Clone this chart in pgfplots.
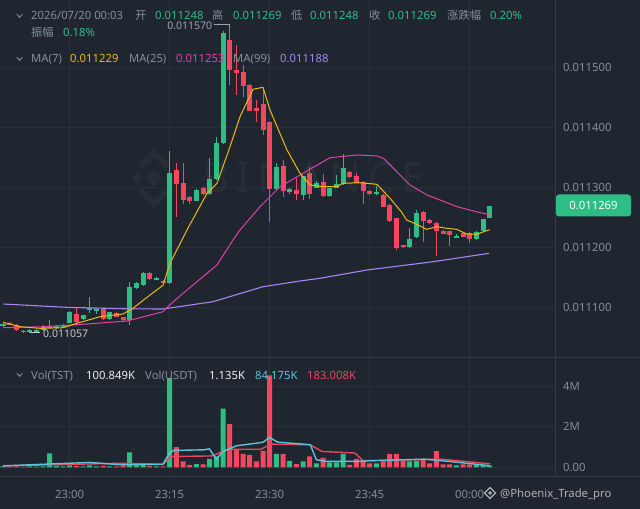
\documentclass[border=0pt]{standalone}
\usepackage{pgfplots}
\pgfplotsset{compat=1.18}
\usepackage{pgfplotstable}
\usepackage{fontspec}
\setmainfont{Noto Sans}
\newfontfamily\cjk{Noto Sans CJK SC}
\definecolor{bg}{HTML}{1F2630}
\definecolor{cgrid}{HTML}{29303A}
\definecolor{csep}{HTML}{343B46}
\definecolor{wm}{HTML}{272E38}
\definecolor{cgrey}{HTML}{848E9C}
\definecolor{cgreen}{HTML}{2EBD85}
\definecolor{cred}{HTML}{F6465D}
\definecolor{cyellow}{HTML}{F0B90B}
\definecolor{cpink}{HTML}{E040A8}
\definecolor{cpurple}{HTML}{A785F2}
\definecolor{cwhite}{HTML}{EAECEF}
\definecolor{ccyan}{HTML}{5EC3D8}
\definecolor{cvred}{HTML}{E8475F}
\newcommand\hf{\fontsize{11.3bp}{13bp}\selectfont}

\pgfplotstableread{
i o h l c
0 11069 11074 11066 11072
3 11059 11061 11057 11060
4 11058 11063 11057 11062
5 11059 11063 11057 11062
6 11062 11070 11060 11069
7 11066 11078 11065 11069
8 11066 11070 11064 11069
9 11066 11071 11065 11070
10 11074 11094 11073 11092
12 11080 11087 11079 11086
13 11095 11116 11090 11098
14 11094 11098 11089 11097
16 11080 11092 11079 11091
19 11078 11142 11070 11134
20 11131 11141 11130 11140
21 11136 11158 11135 11157
23 11146 11150 11145 11149
25 11140 11360 11139 11323
29 11277 11296 11276 11295
31 11288 11349 11287 11314
32 11313 11384 11312 11374
33 11373 11560 11372 11557
41 11296 11340 11295 11334
43 11292 11298 11288 11297
45 11287 11319 11278 11318
47 11299 11310 11298 11306
49 11285 11299 11284 11298
50 11299 11320 11298 11305
51 11305 11355 11304 11331
56 11288 11302 11287 11291
61 11200 11231 11199 11214
62 11216 11262 11215 11256
68 11216 11221 11215 11219
71 11213 11226 11212 11225
72 11226 11247 11225 11246
73 11248 11269 11248 11269
}\greenc

\pgfplotstableread{
i o h l c
1 11074 11075 11070 11071
2 11070 11071 11060 11061
11 11088 11099 11074 11075
15 11097 11099 11079 11080
17 11090 11091 11083 11084
18 11083 11084 11077 11078
22 11157 11158 11145 11146
24 11144 11145 11140 11141
26 11328 11340 11250 11305
27 11306 11340 11272 11278
28 11284 11285 11271 11276
30 11299 11300 11287 11288
34 11545 11570 11470 11495
35 11495 11537 11453 11490
36 11492 11503 11450 11469
37 11470 11471 11426 11427
38 11432 11445 11409 11426
39 11438 11464 11387 11395
40 11409 11410 11242 11296
42 11335 11345 11284 11294
44 11295 11315 11278 11288
46 11323 11334 11280 11289
48 11308 11321 11284 11285
52 11325 11326 11315 11316
53 11318 11324 11306 11307
54 11309 11310 11272 11293
55 11294 11295 11287 11288
57 11287 11288 11266 11267
58 11270 11271 11242 11243
59 11248 11249 11195 11198
60 11203 11204 11199 11200
63 11259 11260 11209 11244
64 11245 11246 11239 11240
65 11240 11241 11185 11226
66 11227 11228 11221 11222
67 11226 11227 11202 11220
69 11223 11224 11216 11217
70 11224 11225 11207 11213
}\redc

\pgfplotstableread{
i p
0.05 11074.5
2.55 11067.2
5.55 11064.5
9.0 11065.5
11.1 11072.9
14.55 11083.9
18.0 11088.4
19.5 11097.9
21.6 11116.2
24.0 11136.2
25.05 11172.9
27.6 11228.4
30.6 11289.5
32.1 11306.2
34.05 11367.2
35.55 11417.2
37.5 11462.9
39.0 11466.2
40.05 11428.4
42.6 11361.7
44.55 11322.9
46.05 11303.4
48.0 11300.5
50.1 11300.5
51.0 11306.2
53.55 11307.2
56.1 11304.5
58.05 11281.2
59.8 11258.0
60.55 11245.0
62.05 11238.0
63.55 11229.5
65.05 11233.9
66.55 11231.2
68.05 11229.5
69.55 11221.7
71.05 11221.2
73.0 11229.0
}\maseven

\pgfplotstableread{
i p
0.05 11065.5
6.0 11067.2
12.0 11071.2
18.6 11076.7
24.0 11092.2
25.55 11108.9
27.6 11128.4
32.1 11170.0
34.5 11211.7
35.55 11228.4
38.55 11267.2
41.55 11300.5
44.55 11320.0
49.05 11348.9
53.1 11353.4
56.1 11351.7
57.05 11347.9
61.05 11303.4
63.6 11286.7
65.55 11278.4
68.1 11267.2
71.55 11257.2
73.05 11254.2
}\matwentyfive

\pgfplotstableread{
i p
0.05 11105.0
9.6 11099.5
18.6 11097.0
24.0 11096.7
31.5 11108.9
39.0 11133.9
44.55 11143.4
47.55 11147.9
54.6 11161.7
64.5 11175.5
72.9 11189.5
}\manine

\pgfplotstableread{
i v
0 0.05
3 0.03
4 0.05
5 0.04
6 0.06
7 0.70
8 0.08
9 0.05
10 0.10
12 0.06
13 0.10
14 0.05
16 0.06
19 0.74
20 0.10
21 0.12
23 0.06
25 4.40
29 0.17
31 0.43
32 0.55
33 2.90
41 0.67
43 0.33
45 0.30
47 0.20
49 0.25
50 0.25
51 0.67
56 0.20
61 0.30
62 0.33
68 0.10
71 0.15
72 0.12
73 0.10
}\greenv

\pgfplotstableread{
i v
1 0.04
2 0.06
11 0.08
15 0.08
17 0.05
18 0.07
22 0.08
24 0.05
26 1.00
27 0.30
28 0.13
30 0.15
34 2.13
35 0.90
36 0.67
37 0.62
38 0.30
39 0.82
40 4.53
42 0.66
44 0.17
46 0.55
48 0.47
52 0.13
53 0.43
54 0.38
55 0.20
57 0.30
58 0.67
59 0.66
60 0.33
63 0.43
64 0.20
65 0.80
66 0.15
67 0.15
69 0.15
70 0.15
}\redv

\pgfplotstableread{
i v
0 0.08
9.96 0.21
13.0 0.25
17.9 0.13
24.0 0.16
24.95 0.71
25.6 0.84
30.15 0.87
30.95 0.92
32.0 0.41
33.0 0.79
35.05 1.07
38.1 1.20
39.05 1.25
39.95 1.48
41.2 1.25
46.1 1.12
47.0 0.38
48.5 0.30
53.4 0.30
54.65 0.33
63.2 0.41
66.9 0.30
73.0 0.09
}\vmafive

\pgfplotstableread{
i v
0 0.08
17.85 0.21
24.0 0.16
25.2 0.54
31.35 0.57
33.85 0.90
38.7 0.90
40.2 1.15
46.05 1.12
47.85 0.79
52.8 0.71
54.0 0.33
65.7 0.41
73.05 0.18
}\vmaten

\pgfplotsset{
  candlewick/.style={forget plot, draw=none, mark=none,
    error bars/.cd, y dir=both, y explicit, error mark=none,
    error bar style={line width=1bp, draw=#1, solid}},
  candlebody/.style={forget plot, draw=none, mark=none,
    error bars/.cd, y dir=both, y explicit, error mark=none,
    error bar style={line width=5bp, draw=#1, solid}},
}

\begin{document}
\begin{tikzpicture}[x=1bp,y=-1bp]
\fill[bg] (0,0) rectangle (640,509);
% watermark
\fill[wm] (154,170)--(162,178.5)--(154,187)--(146,178.5)--cycle;
\fill[wm] (137,173)--(142.5,178.5)--(137,184)--(131.5,178.5)--cycle;
\fill[wm] (171,173)--(176.5,178.5)--(171,184)--(165.5,178.5)--cycle;
\draw[wm, line width=6bp] (140,167)--(154,153)--(168,167);
\draw[wm, line width=6bp] (140,190)--(154,204)--(168,190);
\node[text=wm, inner sep=0pt, anchor=center, font=\fontsize{42bp}{44bp}\selectfont\bfseries\addfontfeature{LetterSpace=16}] at (314,178) {BINANCE};

\begin{axis}[
  at={(0bp,0bp)}, anchor=north west,
  width=555bp, height=357bp, scale only axis,
  xmin=-0.45, xmax=82.8, ymin=11016.7, ymax=11611.7,
  axis line style={draw=none}, major tick length=0pt,
  xtick={10,25,40,55,70}, xticklabels={},
  ytick={11100,11200,11300,11400,11500},
  yticklabels={0.011100,0.011200,0.011300,0.011400,0.011500},
  yticklabel pos=right,
  yticklabel style={anchor=west, inner sep=0pt, xshift=8bp, text=cgrey, font=\hf},
  xmajorgrids, ymajorgrids, grid style={draw=cgrid, line width=0.8bp},
]
\addplot[candlewick=cgreen] table[x=i, y expr={(\thisrow{h}+\thisrow{l})/2}, y error expr={(\thisrow{h}-\thisrow{l})/2}] \greenc;
\addplot[candlebody=cgreen] table[x=i, y expr={(\thisrow{o}+\thisrow{c})/2}, y error expr={max(abs(\thisrow{c}-\thisrow{o})/2,0.5)}] \greenc;
\addplot[candlewick=cred] table[x=i, y expr={(\thisrow{h}+\thisrow{l})/2}, y error expr={(\thisrow{h}-\thisrow{l})/2}] \redc;
\addplot[candlebody=cred] table[x=i, y expr={(\thisrow{o}+\thisrow{c})/2}, y error expr={max(abs(\thisrow{c}-\thisrow{o})/2,0.5)}] \redc;
\addplot[cpurple, line width=1.1bp, mark=none] table[x=i,y=p] \manine;
\addplot[cpink, line width=1bp, mark=none] table[x=i,y=p] \matwentyfive;
\addplot[cyellow, line width=1bp, mark=none] table[x=i,y=p] \maseven;
% high / low markers
\draw[cgrey!80!white, line width=0.8bp] (axis cs:31.6,11571) -- (axis cs:34,11571) -- (axis cs:34,11566);
\node[anchor=east, inner sep=0pt, text=cgrey!80!white, font=\fontsize{10.5bp}{12bp}\selectfont] at (axis cs:31.4,11569) {0.011570};
\draw[cwhite!85!black, line width=0.8bp] (axis cs:4,11057) -- (axis cs:5.6,11057);
\node[anchor=west, inner sep=0pt, text=cwhite!85!black, font=\fontsize{10.5bp}{12bp}\selectfont] at (axis cs:6.0,11056) {0.011057};
\end{axis}

\begin{axis}[
  at={(0bp,-357bp)}, anchor=north west,
  width=555bp, height=118bp, scale only axis,
  xmin=-0.45, xmax=82.8, ymin=-0.37, ymax=5.44,
  axis line style={draw=none}, major tick length=0pt,
  xtick={10,25,40,55,70}, xticklabels={23:00,23:15,23:30,23:45,00:00},
  xticklabel style={anchor=center, inner sep=0pt, yshift=-19bp, text=cgrey, font=\hf},
  ytick={0,2,4}, yticklabels={0.00,2M,4M},
  yticklabel pos=right,
  yticklabel style={anchor=west, inner sep=0pt, xshift=8bp, text=cgrey, font=\hf},
  xmajorgrids, ymajorgrids, grid style={draw=cgrid, line width=0.8bp},
]
\addplot[ybar, bar width=5bp, bar shift=0pt, fill=cgreen, draw=none] table[x=i,y=v] \greenv;
\addplot[ybar, bar width=5bp, bar shift=0pt, fill=cred, draw=none] table[x=i,y=v] \redv;
\addplot[cvred, line width=1.4bp, mark=none] table[x=i,y=v] \vmaten;
\addplot[ccyan, line width=1.4bp, mark=none] table[x=i,y=v] \vmafive;
\end{axis}

% separators
\draw[csep, line width=1bp] (555.5,0) -- (555.5,476);
\draw[csep, line width=1bp] (0,357.5) -- (640,357.5);
\draw[csep, line width=1bp] (0,476.5) -- (640,476.5);

% header text
\newcommand\tx[4]{\node[anchor=base west, inner sep=0pt, text=#3, font=\hf] at (#1,#2) {#4};}
\draw[cgrey, line width=0.9bp] (16.8,14.3) -- (19.6,17.3) -- (22.4,14.3);
\tx{31}{20}{cgrey}{2026/07/20 00:03}
\tx{135}{20}{cgrey}{\cjk 开}
\tx{155}{20}{cgreen}{0.011248}
\tx{212}{20}{cgrey}{\cjk 高}
\tx{233}{20}{cgreen}{0.011269}
\tx{291}{20}{cgrey}{\cjk 低}
\tx{310}{20}{cgreen}{0.011248}
\tx{369}{20}{cgrey}{\cjk 收}
\tx{388}{20}{cgreen}{0.011269}
\tx{447}{20}{cgrey}{\cjk 涨跌幅}
\tx{490}{20}{cgreen}{0.20\%}
\tx{31}{36.5}{cgrey}{\cjk 振幅}
\tx{63}{36.5}{cgreen}{0.18\%}
\draw[cgrey, line width=0.9bp] (16.8,57.3) -- (19.6,60.3) -- (22.4,57.3);
\tx{31}{63}{cgrey}{MA(7)}
\tx{70}{63}{cyellow}{0.011229}
\tx{129}{63}{cgrey}{MA(25)}
\tx{176}{63}{cpink}{0.011253}
\tx{233}{63}{cgrey}{MA(99)}
\tx{280}{63}{cpurple}{0.011188}
\draw[cgrey, line width=0.9bp] (16.8,373.3) -- (19.6,376.3) -- (22.4,373.3);
\tx{31}{379}{cgrey}{Vol(TST)}
\tx{86}{379}{cwhite}{100.849K}
\tx{145}{379}{cgrey}{Vol(USDT)}
\tx{209}{379}{cwhite}{1.135K}
\tx{255}{379}{ccyan}{84.175K}
\tx{307}{379}{cvred}{183.008K}

% last price tag
\fill[cgreen, rounded corners=3bp] (556,194.5) rectangle (631,216.5);
\node[anchor=center, inner sep=0pt, text=white, font=\hf] at (593.5,205.5) {0.011269};

% bottom-right watermark
\draw[cwhite!75!black, line width=1.1bp] (490,487.5)--(495.5,493)--(490,498.5)--(484.5,493)--cycle;
\fill[cwhite!75!black] (490,491)--(492,493)--(490,495)--(488,493)--cycle;
\tx{500}{497}{cwhite!75!black}{@Phoenix\_Trade\_pro}

\pgfresetboundingbox
\path[use as bounding box] (0,0) rectangle (640,509);
\end{tikzpicture}
\end{document}
